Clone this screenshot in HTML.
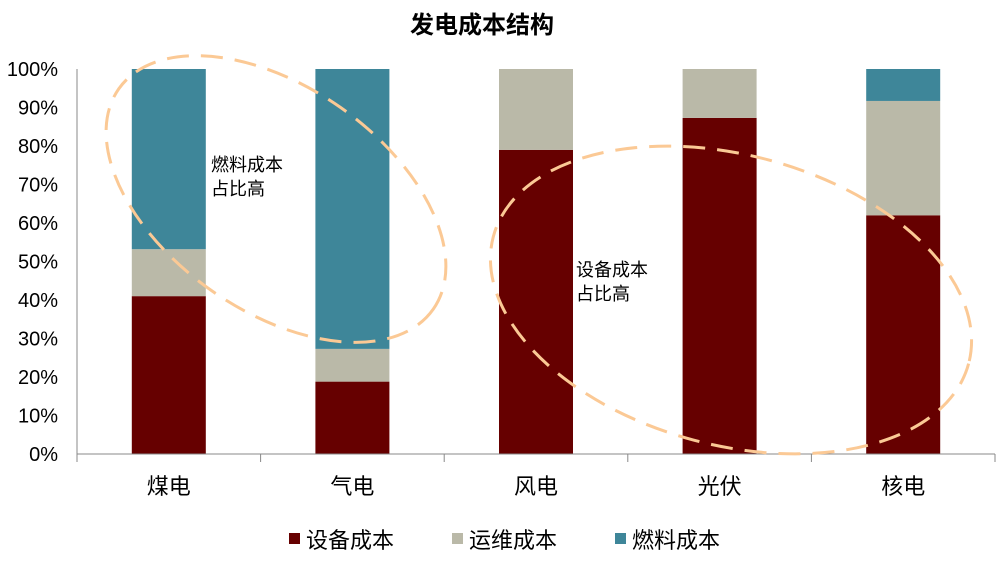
<!DOCTYPE html>
<html><head><meta charset="utf-8"><style>
body{margin:0;background:#fff;}
svg{display:block;font-family:"Liberation Sans","Noto Sans CJK SC",sans-serif;}
</style></head><body>
<svg width="1008" height="577">
<text x="482" y="33" text-anchor="middle" font-size="24" font-weight="bold" fill="#000">发电成本结构</text>
<g id="bars"></g>
<g id="axes"></g>
<ellipse cx="276" cy="199" rx="192" ry="112" transform="rotate(35 276 199)" fill="none" stroke="#fbc995" stroke-width="3" stroke-dasharray="22 12"/>
<ellipse cx="731" cy="300" rx="246" ry="145" transform="rotate(15 731 300)" fill="none" stroke="#fbc995" stroke-width="3" stroke-dasharray="22 12"/>
<text font-size="18" fill="#000"><tspan x="211" y="171">燃料成本</tspan><tspan x="211" y="195">占比高</tspan></text>
<text font-size="18" fill="#000"><tspan x="576" y="276">设备成本</tspan><tspan x="576" y="300">占比高</tspan></text>
<g id="legend"></g>
</svg>
<script>
const categories=["煤电","气电","风电","光伏","核电"];
const equipment=[41,18.8,79,87.3,62];
const om=[12.2,8.5,21,12.7,29.7];
const fuel=[46.8,72.7,0,0,8.3];
const yTicks=["0%","10%","20%","30%","40%","50%","60%","70%","80%","90%","100%"];
const seriesNames=["设备成本","运维成本","燃料成本"];
const colors=["#660000","#bab9a8","#3e8699"];
const NS="http://www.w3.org/2000/svg";
const x0=77,x1=995,y0=454,y1=69;
const bw=(x1-x0)/categories.length;
const yS=v=>y0-(v/100)*(y0-y1);
const xC=i=>x0+bw*(i+0.5);
function mk(t,a,p){const e=document.createElementNS(NS,t);for(const k in a)e.setAttribute(k,a[k]);p.appendChild(e);return e;}
const axes=document.getElementById('axes'),bars=document.getElementById('bars'),leg=document.getElementById('legend');
yTicks.forEach((t,i)=>{const e=mk('text',{x:58,y:yS(i*10)+7,'text-anchor':'end','font-size':20,fill:'#000'},axes);e.textContent=t;

});
let ya=mk('line',{x1:x0,y1:y1,x2:x0,y2:y0,stroke:'#888','stroke-width':1},axes);


let xa=mk('line',{x1:x0,y1:y0,x2:x1,y2:y0,stroke:'#888','stroke-width':1},axes);


for(let i=0;i<=categories.length;i++){const l=mk('line',{x1:x0+bw*i,y1:y0,x2:x0+bw*i,y2:y0+8,stroke:'#888'},axes);

}
const series=[equipment,om,fuel];
categories.forEach((c,i)=>{let acc=0;
series.forEach((s,k)=>{const v=s[i];if(v<=0)return;const r=mk('rect',{x:xC(i)-37,y:yS(acc+v),width:74,height:yS(acc)-yS(acc+v),fill:colors[k]},bars);

acc+=v;});
const t=mk('text',{x:xC(i),y:494,'text-anchor':'middle','font-size':22,fill:'#000'},axes);t.textContent=c;

});
const lx=[289,452,615];
seriesNames.forEach((n,k)=>{const g=mk('g',{},leg);


mk('rect',{x:lx[k],y:533,width:11,height:11,fill:colors[k]},g);
const t=mk('text',{x:lx[k]+17,y:548,'font-size':22,fill:'#000'},g);t.textContent=n;});
</script>
</body></html>
